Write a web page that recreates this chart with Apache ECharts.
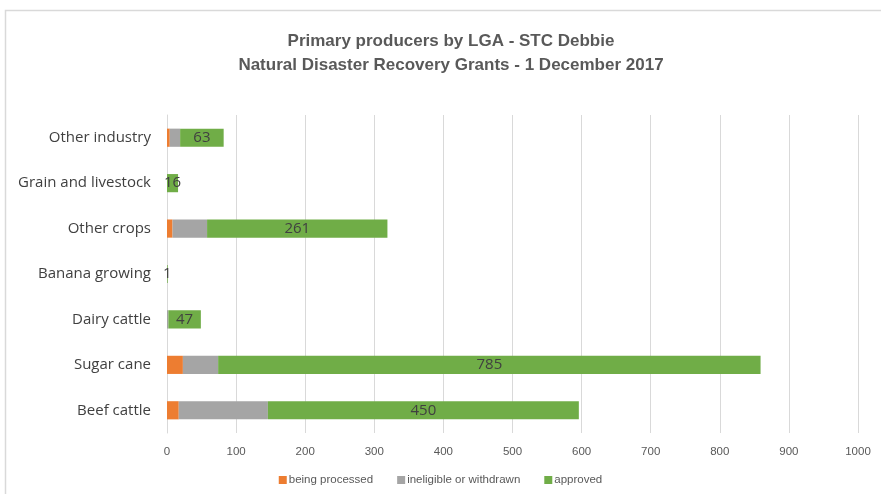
<!DOCTYPE html>
<html>
<head>
<meta charset="utf-8">
<script src="https://cdn.jsdelivr.net/npm/echarts@6/dist/echarts.min.js"></script>
<style>
  html, body { margin: 0; padding: 0; background: #ffffff; }
  #chart { width: 881px; height: 494px; }
</style>
</head>
<body>
<div id="chart"></div>
<script>
// Industry categories, listed bottom to top as they appear on the axis
const industries = ['Beef cattle', 'Sugar cane', 'Dairy cattle', 'Banana growing', 'Other crops', 'Grain and livestock', 'Other industry'];

// Application counts per status
const beingProcessed = [17, 23, 0, 0, 8, 0, 4];
const ineligibleOrWithdrawn = [129, 51, 2, 0, 50, 0, 15];
const approved = [450, 785, 47, 1, 261, 16, 63];

// Value axis ticks
const axisMin = 0;
const axisMax = 1000;
const axisStep = 100;

const FONT = 'Liberation Sans';
const LABEL_FONT = 'Open Sans';
const chart = echarts.init(document.getElementById('chart'), null, { renderer: 'canvas' });

chart.setOption({
  backgroundColor: '#ffffff',
  animation: false,
  textStyle: { fontFamily: FONT },
  graphic: [{
    type: 'rect',
    shape: { x: 5.5, y: 10.5, width: 900, height: 500 },
    style: { fill: 'none', stroke: '#d9d9d9', lineWidth: 1.5 },
    silent: true
  }],
  title: {
    text: 'Primary producers by LGA - STC Debbie\nNatural Disaster Recovery Grants - 1 December 2017',
    left: 446,
    top: 24,
    textAlign: 'center',
    textStyle: {
      fontFamily: FONT,
      fontSize: 17,
      fontWeight: 'bold',
      color: '#595959',
      lineHeight: 24
    }
  },
  legend: {
    bottom: 3,
    left: 'center',
    itemWidth: 8,
    itemHeight: 8,
    itemGap: 24,
    itemStyle: { borderWidth: 0 },
    icon: 'rect',
    textStyle: { fontFamily: FONT, fontSize: 11.5, color: '#595959', padding: [0, 0, 0, -3] },
    data: ['being processed', 'ineligible or withdrawn', 'approved']
  },
  grid: {
    left: 167,
    right: 23,
    top: 115,
    bottom: 61,
    containLabel: false
  },
  xAxis: {
    type: 'value',
    min: axisMin,
    max: axisMax,
    interval: axisStep,
    axisLine: { show: false },
    axisTick: { show: false },
    splitLine: { show: true, lineStyle: { color: '#d9d9d9', width: 1 } },
    axisLabel: {
      fontFamily: FONT,
      fontSize: 11.5,
      color: '#595959',
      margin: 13,
      formatter: function (v) { return String(v); }
    }
  },
  yAxis: {
    type: 'category',
    data: industries,
    axisLine: { show: true, lineStyle: { color: '#d9d9d9', width: 1 } },
    axisTick: { show: false },
    axisLabel: { fontFamily: LABEL_FONT, fontSize: 15, color: '#404040', margin: 16 }
  },
  series: [
    {
      name: 'being processed',
      type: 'bar',
      stack: 'total',
      barWidth: '40%',
      itemStyle: { color: '#ed7d31' },
      data: beingProcessed
    },
    {
      name: 'ineligible or withdrawn',
      type: 'bar',
      stack: 'total',
      barWidth: '40%',
      itemStyle: { color: '#a5a5a5' },
      data: ineligibleOrWithdrawn
    },
    {
      name: 'approved',
      type: 'bar',
      stack: 'total',
      barWidth: '40%',
      itemStyle: { color: '#70ad47' },
      label: {
        show: true,
        position: 'inside',
        fontFamily: LABEL_FONT,
        fontSize: 15,
        color: '#404040'
      },
      data: approved
    }
  ]
});
</script>
</body>
</html>
